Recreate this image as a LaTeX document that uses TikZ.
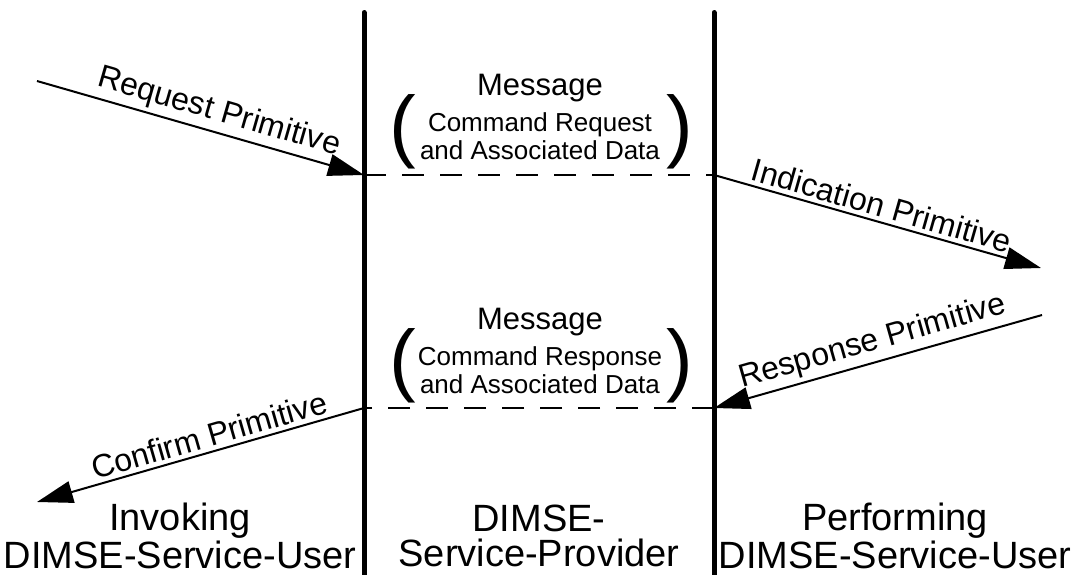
\documentclass[tikz,border=0pt]{standalone}
\usepackage{fontspec}
\setmainfont{Liberation Sans}
\usetikzlibrary{arrows.meta}

\tikzset{
  lifeline/.style={line width=2.5pt, line cap=round},
  primitive/.style={line width=1pt, -{Triangle[length=18pt,width=11pt]}},
  msgline/.style={line width=1pt, dash pattern=on 11pt off 8pt},
  primlabel/.style={font=\fontsize{16}{18}\selectfont, sloped, above, inner sep=2pt},
  msgtitle/.style={font=\fontsize{15.5}{18}\selectfont, inner sep=0pt},
  msgbody/.style={font=\fontsize{13}{14}\selectfont, align=center, inner sep=0pt},
  paren/.style={font=\fontsize{40}{44}\selectfont, inner sep=0pt},
  party/.style={font=\fontsize{19}{17.5}\selectfont, align=center, inner sep=0pt}
}

\begin{document}
\begin{tikzpicture}[x=0.5pt,y=-0.5pt]
\useasboundingbox (0,0) rectangle (1075,574);

% lifelines
\coordinate (invTop) at (364,12.5);
\coordinate (invBot) at (364,580);
\coordinate (perTop) at (714,12.5);
\coordinate (perBot) at (714,580);
\draw[lifeline] (invTop) -- (invBot);
\draw[lifeline] (perTop) -- (perBot);

% end points of the primitives
\coordinate (reqStart) at (37,81);
\coordinate (reqEnd) at (364,175);
\coordinate (indStart) at (714,175);
\coordinate (indEnd) at (1041,268);
\coordinate (rspStart) at (1042,315);
\coordinate (rspEnd) at (714,408);
\coordinate (cnfStart) at (364,408);
\coordinate (cnfEnd) at (37,502);

% request / indication
\draw[primitive] (reqStart) -- (reqEnd) node[primlabel, pos=0.54] {Request Primitive};
\draw[msgline] (reqEnd) -- (indStart);
\draw[primitive] (indStart) -- (indEnd) node[primlabel, pos=0.5] {Indication Primitive};

% response / confirm
\draw[primitive] (rspStart) -- (rspEnd) node[primlabel, pos=0.5] {Response Primitive};
\draw[msgline] (rspEnd) -- (cnfStart);
\draw[primitive] (cnfStart) -- (cnfEnd) node[primlabel, pos=0.46] {Confirm Primitive};

% messages
\node[msgtitle] (reqMsg) at (540,88) {Message};
\node[msgbody] (reqData) at (540,136) {Command Request\\and Associated Data};
\node[paren] (reqOpen) at (403,132) {(};
\node[paren] (reqClose) at (680,132) {)};

\node[msgtitle] (rspMsg) at (540,322) {Message};
\node[msgbody] (rspData) at (540,370) {Command Response\\and Associated Data};
\node[paren] (rspOpen) at (403,366) {(};
\node[paren] (rspClose) at (680,366) {)};

% parties
\node[party] (invoker) at (180,536) {Invoking\\DIMSE-Service-User};
\node[party] (provider) at (539,536) {DIMSE-\\Service-Provider};
\node[party] (performer) at (895,536) {Performing\\DIMSE-Service-User};
\end{tikzpicture}
\end{document}
